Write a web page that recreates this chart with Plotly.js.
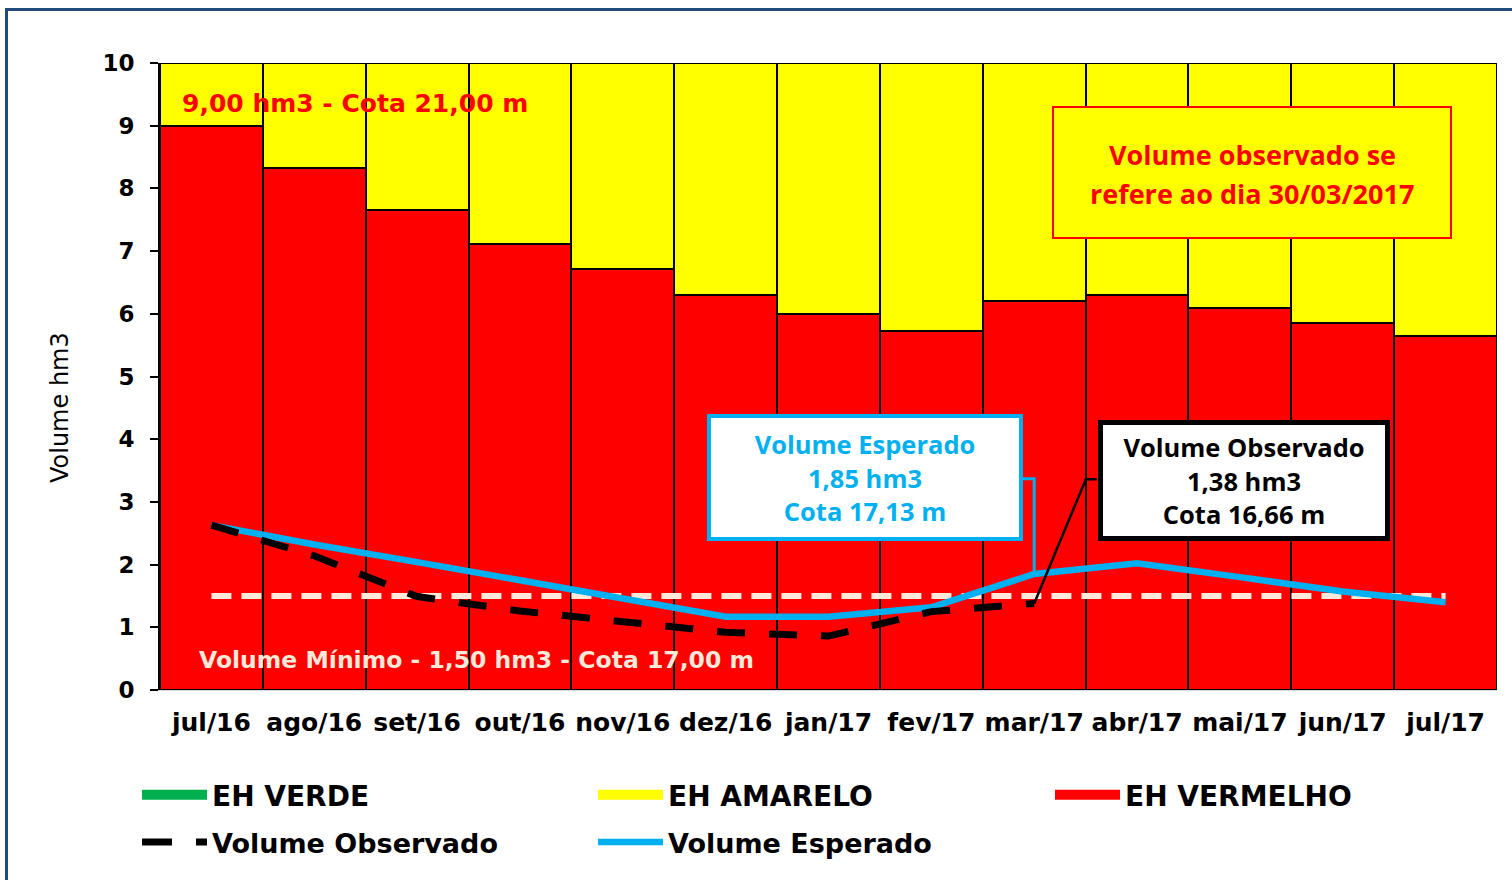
<!DOCTYPE html>
<html><head><meta charset="utf-8">
<script src="https://cdn.plot.ly/plotly-3.0.1.min.js"></script>
<style>
html,body{margin:0;padding:0;background:#fff;overflow:hidden;}
#chart{width:1512px;height:880px;}
#frame{position:absolute;left:5px;top:8px;width:1600px;height:1000px;border-left:3px solid #23497b;border-top:3px solid #23497b;pointer-events:none;}
</style></head><body>
<div id="chart"></div><div id="frame"></div>
<script>
const meses = ['jul/16','ago/16','set/16','out/16','nov/16','dez/16','jan/17','fev/17','mar/17','abr/17','mai/17','jun/17','jul/17'];
const ehVerde    = [0,0,0,0,0,0,0,0,0,0,0,0,0];
const ehVermelho = [9.00,8.32,7.65,7.12,6.72,6.30,6.00,5.73,6.21,6.30,6.10,5.85,5.64];
const ehAmarelo  = [1.00,1.68,2.35,2.88,3.28,3.70,4.00,4.27,3.79,3.70,3.90,4.15,4.36];
const volumeObservado = [2.63,2.14,1.49,1.26,1.09,0.92,0.86,1.25,1.38,null,null,null,null];
const volumeEsperado  = [2.63,2.32,2.04,1.75,1.47,1.17,1.17,1.32,1.85,2.02,1.80,1.57,1.40];
const volumeMinimo    = [1.5,1.5,1.5,1.5,1.5,1.5,1.5,1.5,1.5,1.5,1.5,1.5,1.5];
const idxObs = 8; // mar/17

const W = 1512, H = 880;
const L = 160, R = 1497, T = 63, B = 690;
const px = v => (v - L) / (R - L);
const py = v => (B - v) / (B - T);

const barLine = {color:'#000', width:2};
const traces = [
  {type:'bar', x:meses, y:ehVerde, name:'EH VERDE', marker:{color:'#00b050', line:barLine}, showlegend:false},
  {type:'bar', x:meses, y:ehVermelho, name:'EH VERMELHO', marker:{color:'#ff0000', line:barLine}, showlegend:false},
  {type:'bar', x:meses, y:ehAmarelo, name:'EH AMARELO', marker:{color:'#ffff00', line:barLine}, showlegend:false},
  {type:'scatter', mode:'lines', x:meses, y:volumeMinimo, name:'Volume Mínimo', line:{color:'#fde9d9', width:6, dash:'20px,10px'}, showlegend:false},
  {type:'scatter', mode:'lines', x:meses, y:volumeEsperado, name:'Volume Esperado', line:{color:'#00b0f0', width:6.5}, showlegend:false},
  {type:'scatter', mode:'lines', x:meses, y:volumeObservado, name:'Volume Observado', line:{color:'#000', width:7, dash:'28px,24px'}, showlegend:false},
  // legend entries
  {type:'scatter', mode:'lines', x:[null], y:[null], name:'EH VERDE', line:{color:'#00b050', width:10}, legend:'legend'},
  {type:'scatter', mode:'lines', x:[null], y:[null], name:'EH AMARELO', line:{color:'#ffff00', width:10}, legend:'legend2'},
  {type:'scatter', mode:'lines', x:[null], y:[null], name:'EH VERMELHO', line:{color:'#ff0000', width:10}, legend:'legend3'},
  {type:'scatter', mode:'lines', x:[null], y:[null], name:'Volume Observado', line:{color:'#000', width:7, dash:'30px,24px'}, legend:'legend4'},
  {type:'scatter', mode:'lines', x:[null], y:[null], name:'Volume Esperado', line:{color:'#00b0f0', width:6.5}, legend:'legend5'}
];

const leg = (xpix, ytop, fs) => ({orientation:'v', xanchor:'left', yanchor:'top', x:px(xpix), y:py(ytop),
  font:{family:'DejaVu Sans', size:fs, weight:'bold', color:'#000'}, itemwidth:65, bgcolor:'rgba(0,0,0,0)', borderwidth:0, itemclick:false});

const boxFont = (c, s) => ({family:'Open Sans', size:s, weight:'bold', color:c});

const layout = {
  width:W, height:H,
  margin:{l:L, r:W-R, t:T, b:H-B, pad:0},
  paper_bgcolor:'#fff', plot_bgcolor:'#fff',
  barmode:'stack', bargap:0,
  font:{family:'DejaVu Sans', color:'#000'},
  xaxis:{type:'category', showgrid:false, showline:true, linecolor:'#d9d9d9', linewidth:1, ticks:'', ticklabelstandoff:10,
         tickfont:{family:'DejaVu Sans', size:25, weight:'bold', color:'#000'}, fixedrange:true},
  yaxis:{range:[0,10], dtick:1, showgrid:false, zeroline:false, showline:true, linecolor:'#000', linewidth:2,
         ticks:'outside', ticklen:8, tickwidth:2, tickcolor:'#000', ticklabelstandoff:11,
         tickfont:{family:'DejaVu Sans', size:23, weight:'bold', color:'#000'}, fixedrange:true},
  yaxis2:{range:[0,10], dtick:1, overlaying:'y', side:'left', anchor:'x', showgrid:false, zeroline:false, showline:false,
          ticks:'inside', ticklen:11, tickwidth:2, tickcolor:'#000', showticklabels:false, fixedrange:true},
  showlegend:true,
  legend:  leg(137, 770, 28),
  legend2: leg(593, 770, 28),
  legend3: leg(1050, 770, 28),
  legend4: leg(137, 818, 27),
  legend5: leg(593, 818, 27),
  shapes:[
    {type:'path', xref:'x', yref:'y', path:`M ${idxObs-0.134},3.37 L ${idxObs},3.37 L ${idxObs},${volumeEsperado[idxObs]}`, line:{color:'#00b0f0', width:3}},
    {type:'path', xref:'x', yref:'y', path:`M ${idxObs+0.609},3.36 L ${idxObs+0.502},3.36 L ${idxObs},${volumeObservado[idxObs]}`, line:{color:'#000', width:2.5}},
    {type:'rect', xref:'paper', yref:'paper', x0:px(1053), x1:px(1451), y0:py(238), y1:py(107), fillcolor:'#ffff00', line:{color:'#ff0000', width:2}}
  ],
  annotations:[
    {xref:'paper', yref:'paper', x:px(180), y:py(103), xanchor:'left', yanchor:'middle', showarrow:false,
     text:'9,00 hm3 - Cota 21,00 m', font:{family:'DejaVu Sans', size:25, weight:'bold', color:'#ff0000'}},
    {xref:'paper', yref:'paper', x:px(197), y:py(660), xanchor:'left', yanchor:'middle', showarrow:false,
     text:'Volume Mínimo - 1,50 hm3 - Cota 17,00 m', font:{family:'DejaVu Sans', size:23.5, weight:'bold', color:'#fde9d9'}},
    {xref:'paper', yref:'paper', x:px(1252), y:py(155), xanchor:'center', yanchor:'middle', showarrow:false,
     text:'Volume observado se', font:boxFont('#ff0000', 27)},
    {xref:'paper', yref:'paper', x:px(1252), y:py(193), xanchor:'center', yanchor:'middle', showarrow:false,
     text:'refere ao dia 30/03/2017', font:boxFont('#ff0000', 27)},
    {xref:'paper', yref:'paper', x:px(865), y:py(477.5), xanchor:'center', yanchor:'middle', showarrow:false,
     text:'Volume Esperado<br>1,85 hm3<br>Cota 17,13 m', font:boxFont('#00b0f0', 25.5),
     bgcolor:'#fff', bordercolor:'#00b0f0', borderwidth:4, borderpad:0, width:308, height:119},
    {xref:'paper', yref:'paper', x:px(1244), y:py(480.5), xanchor:'center', yanchor:'middle', showarrow:false,
     text:'Volume Observado<br>1,38 hm3<br>Cota 16,66 m', font:boxFont('#000', 25.5),
     bgcolor:'#fff', bordercolor:'#000', borderwidth:5, borderpad:0, width:282, height:111},
    {xref:'paper', yref:'paper', x:px(60), y:py(408), xanchor:'center', yanchor:'middle', showarrow:false, textangle:-90,
     text:'Volume hm3', font:{family:'DejaVu Sans', size:24, color:'#000'}}
  ]
};

Plotly.newPlot('chart', traces, layout, {displayModeBar:false, staticPlot:true});
</script>
</body></html>
